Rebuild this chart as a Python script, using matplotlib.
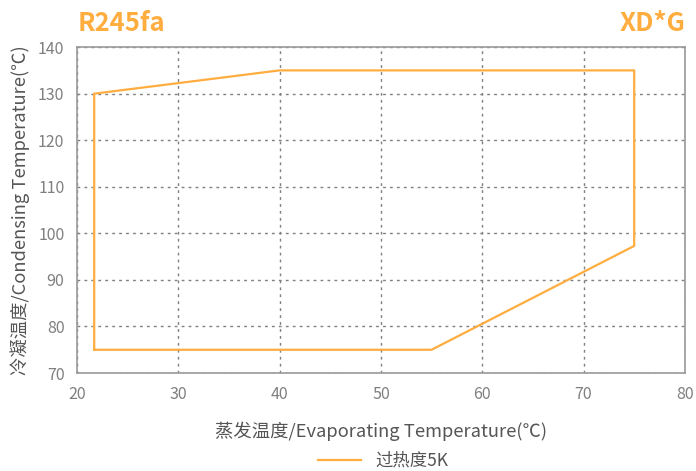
import matplotlib.pyplot as plt

plt.rcParams['font.family'] = ['Noto Sans CJK SC', 'DejaVu Sans']

# envelope of the operating range
evap_temp = [21.7, 21.7, 40, 75, 75, 55, 21.7]
cond_temp = [75, 130, 135, 135, 97.3, 75, 75]
x_ticks = [20, 30, 40, 50, 60, 70, 80]
y_ticks = [70, 80, 90, 100, 110, 120, 130, 140]

orange = '#FFAD3F'
grey = '#7f7f7f'

fig = plt.figure(figsize=(6.96, 4.71), dpi=100)
ax = fig.add_axes([0.1106, 0.208, 0.8734, 0.692])

ax.plot(evap_temp, cond_temp, color=orange, lw=1.6, label='过热度5K')

ax.set_xlim(20, 80)
ax.set_ylim(70, 140)
ax.set_xticks(x_ticks)
ax.set_yticks(y_ticks)
ax.grid(True, color=grey, linestyle=(0, (2, 3)), linewidth=1)
ax.tick_params(length=0, colors=grey, labelsize=11.5, pad=9)
for s in ax.spines.values():
    s.set_color('#999999')
    s.set_linewidth(1.2)

ax.set_xlabel('蒸发温度/Evaporating Temperature(℃)', fontsize=13.2, color='#555555', labelpad=14)
ax.set_ylabel('冷凝温度/Condensing Temperature(℃)', fontsize=13.2, color='#555555', labelpad=6)

fig.text(0.112, 0.951, 'R245fa', fontsize=18.5, fontweight='bold', color=orange, ha='left', va='center')
fig.text(0.985, 0.951, 'XD*G', fontsize=18.5, fontweight='bold', color=orange, ha='right', va='center')

fig.legend(loc='center', bbox_to_anchor=(0.55, 0.022), frameon=False, fontsize=12.5,
           labelcolor='#555555', handlelength=2.5)

fig.savefig('out.png', dpi=100)
